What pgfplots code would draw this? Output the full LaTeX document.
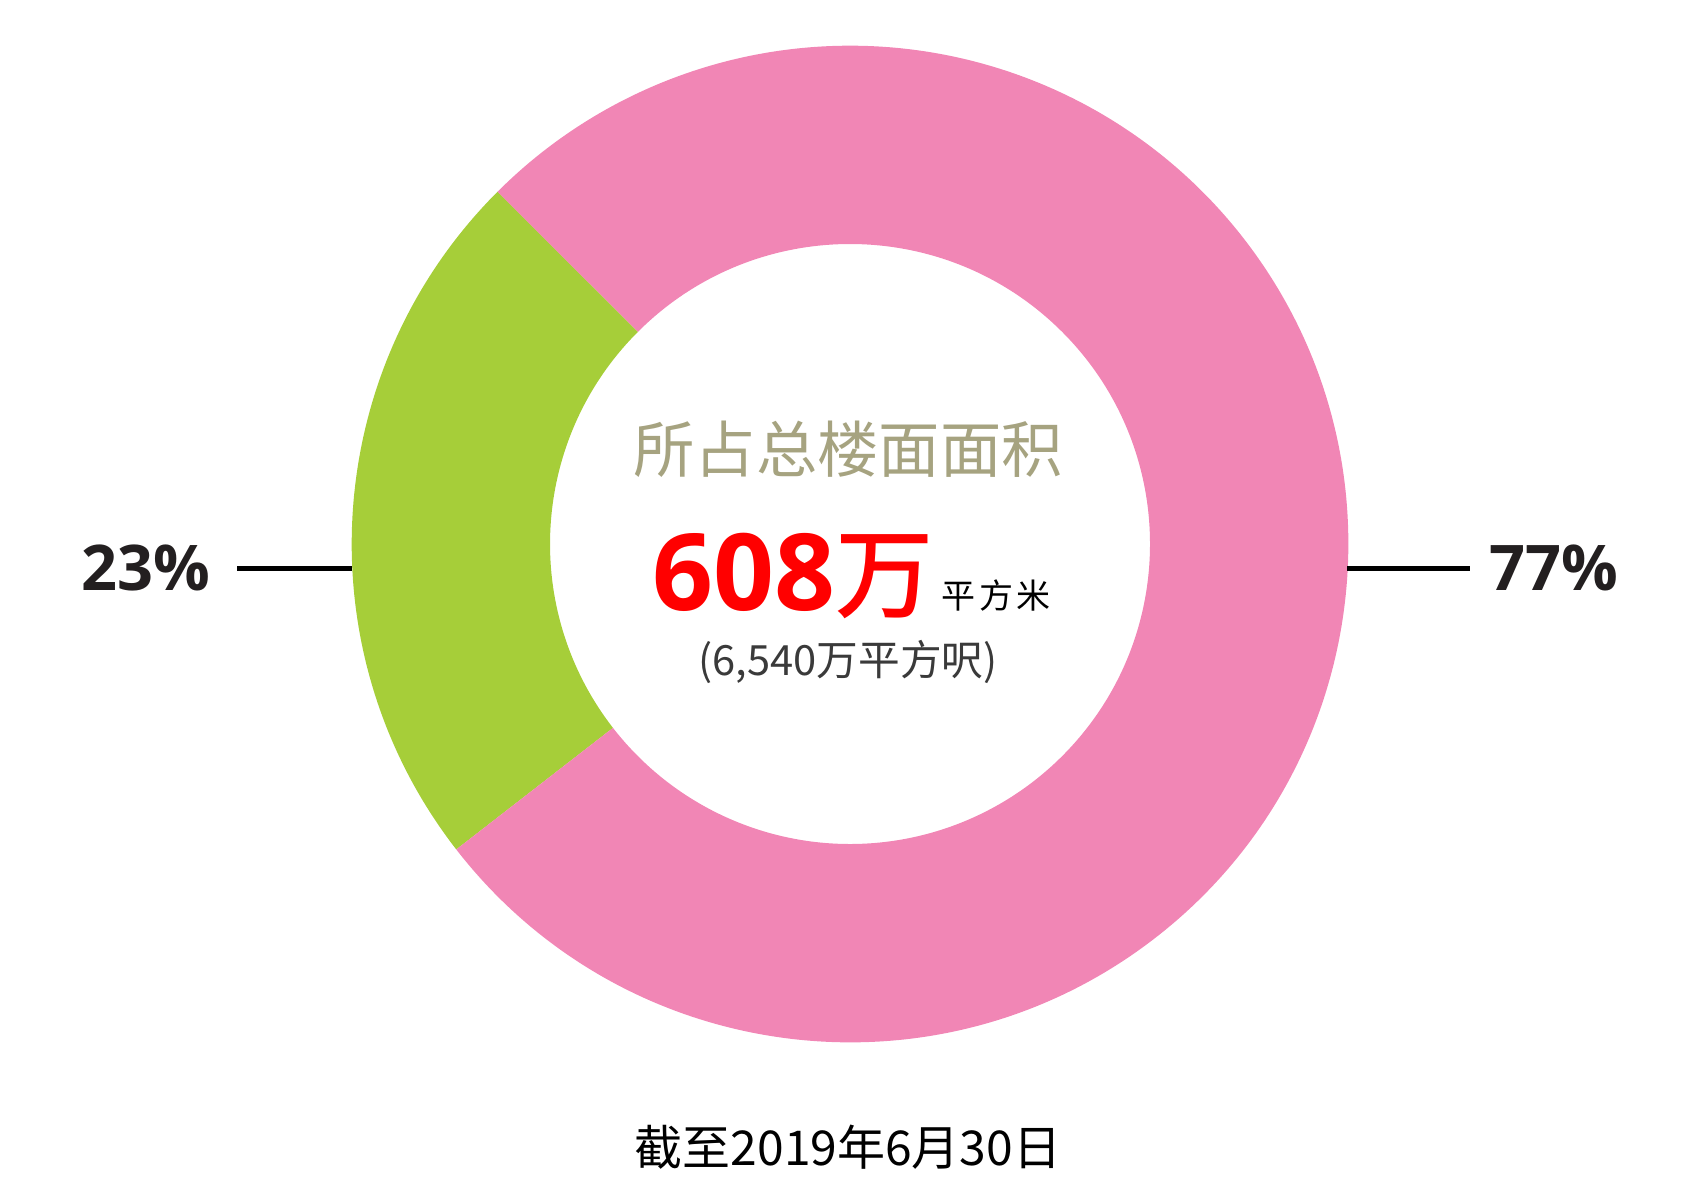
\documentclass[border=0pt]{standalone}
\usepackage{pgfplots}
\pgfplotsset{compat=1.18}
\usepackage{pgfplotstable}
\usepackage{fontspec}
\setmainfont{Open Sans}
\newfontfamily\cjk{Noto Sans CJK SC}
\newfontfamily\cjkm{Noto Sans CJK SC Medium}
\newfontfamily\osans{Open Sans}
\definecolor{pinkc}{HTML}{F186B5}
\definecolor{greenc}{HTML}{A6CE39}
\definecolor{titlec}{HTML}{A6A380}
\definecolor{pctc}{HTML}{231F20}
\definecolor{subc}{HTML}{3A3A3A}
\pgfplotstableread{
name value
B 23
A 77
}\piedata
\begin{document}
\begin{tikzpicture}
\pgfplotstablegetelem{0}{value}\of\piedata \let\va\pgfplotsretval
\pgfplotstablegetelem{1}{value}\of\piedata \let\vb\pgfplotsretval
\pgfmathsetmacro\aA{135}
\pgfmathsetmacro\aB{135+3.6*\va}
\pgfmathsetmacro\aC{\aB+3.6*\vb}
\begin{axis}[
  x=0.3pt, y=0.3pt,
  xmin=0, xmax=1700, ymin=0, ymax=1200,
  scale only axis, hide axis, clip=false,
]
\path (axis cs:0,0) rectangle (axis cs:1700,1200);
% ring sectors
\fill[greenc] (axis cs:850,656) ++(\aA:149.5pt) arc[start angle=\aA, end angle=\aB, radius=149.5pt]
   -- ([shift={(\aB:90pt)}]axis cs:850,656) arc[start angle=\aB, end angle=\aA, radius=90pt] -- cycle;
\fill[pinkc] (axis cs:850,656) ++(\aB:149.5pt) arc[start angle=\aB, end angle=\aC, radius=149.5pt]
   -- ([shift={(\aC:90pt)}]axis cs:850,656) arc[start angle=\aC, end angle=\aB, radius=90pt] -- cycle;
% leader lines
\addplot[black, line width=1.5pt] coordinates {(237,632) (352,632)};
\addplot[black, line width=1.5pt] coordinates {(1347,632) (1470,632)};
% percentage labels
\node[anchor=base, text=pctc, font=\osans\bfseries\fontsize{18.9}{20}\selectfont, inner sep=0pt] at (axis cs:146,610) {23\%};
\node[anchor=base, text=pctc, font=\osans\bfseries\fontsize{18.9}{20}\selectfont, inner sep=0pt] at (axis cs:1554,610) {77\%};
% centre text
\node[anchor=base, text=titlec, font=\cjk\fontsize{18.4}{20}\selectfont, inner sep=0pt] at (axis cs:848,728) {所占总楼面面积};
\node[anchor=base west, text=red, inner sep=0pt] at (axis cs:652,590)
  {{\osans\bfseries\fontsize{32}{34}\selectfont 608}{\cjkm\fontsize{29.5}{30}\selectfont 万}};
\node[anchor=base west, text=black, font=\cjk\fontsize{10.2}{11}\selectfont, inner sep=0pt] at (axis cs:941,592) {平\kern1pt 方\kern1pt 米};
\node[anchor=base, text=subc, font=\cjk\fontsize{12.5}{14}\selectfont, inner sep=0pt] at (axis cs:848,525) {(6,540万平方呎)};
% footnote
\node[anchor=base, text=black, font=\cjk\fontsize{14.4}{16}\selectfont, inner sep=0pt] at (axis cs:848,35) {截至2019年6月30日};
\end{axis}
\end{tikzpicture}
\end{document}
